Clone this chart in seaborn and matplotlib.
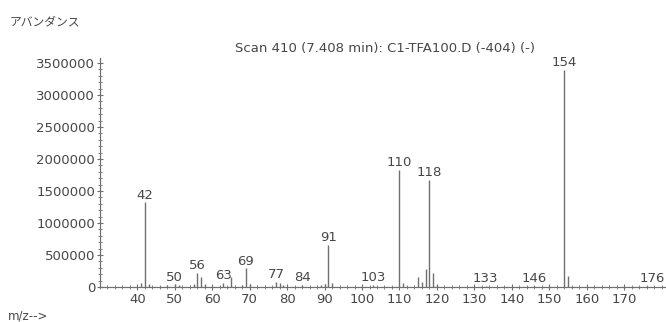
import matplotlib
matplotlib.use("Agg")
import matplotlib.pyplot as plt
from matplotlib.ticker import MultipleLocator, FuncFormatter
import seaborn as sns
import pandas as pd

# Mass spectrum: m/z values and their abundances
mz = [41, 42, 43, 48, 50, 51, 55, 56, 57, 58, 63, 65, 68, 69, 70, 77, 78, 79,
      84, 89, 90, 91, 92, 103, 110, 111, 115, 116, 117, 118, 119, 120, 133,
      146, 154, 155, 176]
abundance = [60000, 1320000, 40000, 30000, 40000, 25000, 40000, 220000,
             160000, 40000, 60000, 160000, 30000, 290000, 40000, 80000,
             60000, 30000, 35000, 30000, 40000, 660000, 60000, 30000,
             1830000, 60000, 150000, 80000, 280000, 1670000, 220000, 30000,
             20000, 20000, 3390000, 170000, 12000]

# Peaks that carry an m/z label
labelled = [42, 50, 56, 63, 69, 77, 84, 91, 103, 110, 118, 133, 146, 154, 176]

spec = pd.DataFrame({"mz": mz, "abundance": abundance})

sns.set_theme(style="white")
plt.rcParams["font.family"] = ["DejaVu Sans", "Noto Sans CJK JP"]

ink = "#474747"
line_col = "#707070"
fs = 9.5

fig = plt.figure(figsize=(6.66, 3.22), dpi=100)
ax = fig.add_axes([0.150, 0.109, 0.849, 0.711])

ax.vlines(spec["mz"], 0, spec["abundance"], color=line_col, linewidth=1.0)

for m, a in zip(spec["mz"], spec["abundance"]):
    if m in labelled:
        dx = 4 if m == 176 else 0
        ax.annotate(str(m), (m, a), xytext=(dx, 0.5), textcoords="offset points",
                    ha="center", va="bottom", fontsize=fs, color=ink)

ax.set_xlim(30, 181)
ax.set_ylim(0, 3580000)

ax.xaxis.set_major_locator(MultipleLocator(10))
ax.xaxis.set_minor_locator(MultipleLocator(2))
ax.yaxis.set_major_locator(MultipleLocator(500000))
ax.yaxis.set_minor_locator(MultipleLocator(100000))
ax.set_xticks(range(40, 180, 10))
ax.yaxis.set_major_formatter(FuncFormatter(lambda v, p: f"{int(v)}"))

ax.tick_params(axis="both", which="major", direction="inout", length=5,
               width=0.8, color=line_col, labelsize=fs, labelcolor=ink)
ax.tick_params(axis="x", which="major", pad=2)
ax.tick_params(axis="y", which="major", pad=1)
ax.tick_params(axis="both", which="minor", direction="inout", length=3,
               width=0.6, color=line_col)
ax.tick_params(left=True, bottom=True, which="both")

for side in ("top", "right"):
    ax.spines[side].set_visible(False)
for side in ("left", "bottom"):
    ax.spines[side].set_color(line_col)
    ax.spines[side].set_linewidth(0.9)

ax.set_xlabel("")
ax.set_ylabel("")

fig.text(0.578, 0.848, "Scan 410 (7.408 min): C1-TFA100.D (-404) (-)",
         ha="center", va="center", fontsize=fs, color=ink)
fig.text(0.015, 0.932, "アバンダンス", ha="left", va="center", fontsize=8.5,
         color=ink, family=["Noto Sans CJK JP", "DejaVu Sans"])
fig.text(0.012, 0.018, "m/z-->", ha="left", va="center", fontsize=8.5,
         color=ink)

fig.savefig("out.png", dpi=100, facecolor="white")
